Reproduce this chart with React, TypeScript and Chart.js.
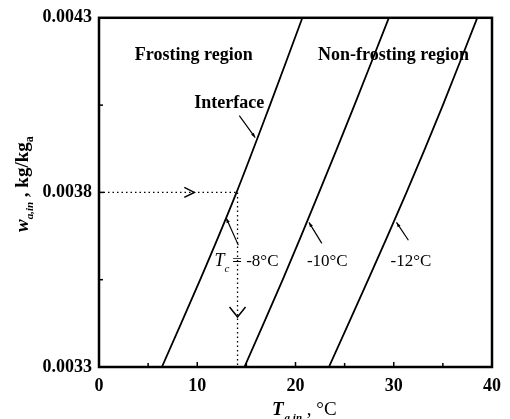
import React, { useEffect, useRef } from 'react';
import { Chart, registerables } from 'chart.js';
Chart.register(...registerables);

// Air humidity ratio (kg/kg_a) sampled along each interface line
const humidity = [0.0033, 0.00355, 0.0038, 0.00405, 0.0043];
// Inlet air temperature (°C) on the frosting interface for each coil temperature
const tempCoilMinus8 = [6.4, 10.3, 14.0, 17.4, 20.7];
const tempCoilMinus10 = [14.8, 18.7, 22.4, 26.0, 29.5];
const tempCoilMinus12 = [23.4, 27.4, 31.3, 35.0, 38.5];

const xTicks = [0, 10, 20, 30, 40];
const xMinorTicks = [5, 15, 25, 35];
const yTicks = [0.0033, 0.0038, 0.0043];
const yMinorTicks = [0.00355, 0.00405];

// Example reading (dotted guide)
const guideHumidity = 0.0038;
const guideTemp = 14.1;

const SERIF = '"Liberation Serif", "Times New Roman", serif';

function toPoints(ts: number[]) {
  return ts.map((t, i) => ({ x: t, y: humidity[i] }));
}

const overlay = {
  id: 'overlay',
  afterDraw(chart: any) {
    const { ctx, chartArea: a } = chart;
    const xs = chart.scales.x;
    const ys = chart.scales.y;
    const X = (v: number) => xs.getPixelForValue(v);
    const Y = (v: number) => ys.getPixelForValue(v);
    ctx.save();
    ctx.strokeStyle = '#000';
    ctx.fillStyle = '#000';
    ctx.lineCap = 'butt';

    // frame
    ctx.lineWidth = 2.5;
    ctx.strokeRect(a.left, a.top, a.right - a.left, a.bottom - a.top);

    // ticks (inward)
    ctx.lineWidth = 1.5;
    const tick = (px: number, py: number, dx: number, dy: number) => {
      ctx.beginPath();
      ctx.moveTo(px, py);
      ctx.lineTo(px + dx, py + dy);
      ctx.stroke();
    };
    xTicks.forEach((v) => tick(X(v), a.bottom, 0, -5));
    xMinorTicks.forEach((v) => tick(X(v), a.bottom, 0, -4));
    yTicks.forEach((v) => tick(a.left, Y(v), 5, 0));
    yMinorTicks.forEach((v) => tick(a.left, Y(v), 4, 0));

    // guide arrowheads (open chevrons)
    ctx.lineWidth = 1.5;
    const hx = X(9.7), hy = Y(guideHumidity);
    ctx.beginPath();
    ctx.moveTo(hx - 10, hy - 5);
    ctx.lineTo(hx, hy);
    ctx.lineTo(hx - 10, hy + 5);
    ctx.stroke();
    const vx = X(guideTemp), vy = Y(0.003443);
    ctx.beginPath();
    ctx.moveTo(vx - 8, vy - 10);
    ctx.lineTo(vx, vy);
    ctx.lineTo(vx + 8, vy - 10);
    ctx.stroke();

    // pointers from labels to curves
    const pointer = (t1: number, w1: number, t2: number, w2: number) => {
      const x1 = X(t1), y1 = Y(w1), x2 = X(t2), y2 = Y(w2);
      ctx.lineWidth = 1.2;
      ctx.beginPath();
      ctx.moveTo(x1, y1);
      ctx.lineTo(x2, y2);
      ctx.stroke();
      const ang = Math.atan2(y1 - y2, x1 - x2);
      const s = 5;
      ctx.beginPath();
      ctx.moveTo(x1, y1);
      ctx.lineTo(x1 - s * Math.cos(ang - 0.35), y1 - s * Math.sin(ang - 0.35));
      ctx.lineTo(x1 - s * Math.cos(ang + 0.35), y1 - s * Math.sin(ang + 0.35));
      ctx.closePath();
      ctx.fill();
    };
    pointer(15.9, 0.003957, 14.28, 0.00402);
    pointer(12.96, 0.003726, 14.18, 0.003649);
    pointer(21.37, 0.003714, 22.68, 0.003654);
    pointer(30.28, 0.003714, 31.49, 0.003663);

    // region texts
    ctx.textBaseline = 'alphabetic';
    ctx.textAlign = 'left';
    ctx.font = `bold 18px ${SERIF}`;
    ctx.fillText('Frosting region', X(3.65), Y(0.00418));
    ctx.fillText('Non-frosting region', X(22.3), Y(0.00418));
    ctx.fillText('Interface', X(9.7), Y(0.004043));

    // coil temperature labels
    const lblY = Y(0.003589);
    let px = X(11.75);
    ctx.font = `italic 18px ${SERIF}`;
    ctx.fillText('T', px, lblY);
    px += ctx.measureText('T').width;
    ctx.font = `italic 11px ${SERIF}`;
    ctx.fillText('c', px, lblY + 6);
    px += ctx.measureText('c').width + 3;
    ctx.font = `17px ${SERIF}`;
    ctx.fillText('= -8°C', px, lblY);
    ctx.fillText('-10°C', X(21.16), lblY);
    ctx.fillText('-12°C', X(29.67), lblY);

    // x-axis title
    const tb = 415;
    let tx = 272;
    ctx.font = `bold italic 19px ${SERIF}`;
    ctx.fillText('T', tx, tb);
    tx += ctx.measureText('T').width + 1;
    ctx.font = `bold italic 11px ${SERIF}`;
    ctx.fillText('a,in', tx, tb + 6);
    tx += ctx.measureText('a,in').width;
    ctx.font = `19px ${SERIF}`;
    ctx.fillText(' , °C', tx, tb);

    // y-axis title (rotated)
    ctx.translate(28, 232);
    ctx.rotate(-Math.PI / 2);
    let ry = 0;
    ctx.font = `bold italic 19px ${SERIF}`;
    ctx.fillText('w', ry, 0);
    ry += ctx.measureText('w').width;
    ctx.font = `bold italic 11px ${SERIF}`;
    ctx.fillText('a,in', ry, 5);
    ry += ctx.measureText('a,in').width;
    ctx.font = `bold 19px ${SERIF}`;
    ctx.fillText(' , kg/kg', ry, 0);
    ry += ctx.measureText(' , kg/kg').width;
    ctx.font = `bold 12px ${SERIF}`;
    ctx.fillText('a', ry, 5);

    ctx.restore();
  },
};

export default function App() {
  const ref = useRef<HTMLCanvasElement | null>(null);
  useEffect(() => {
    if (!ref.current) return;
    const curve = (ts: number[]) => ({
      data: toPoints(ts),
      borderColor: '#000',
      borderWidth: 1.8,
      pointRadius: 0,
      tension: 0.3,
      fill: false,
    });
    const chart = new Chart(ref.current, {
      type: 'line',
      data: {
        datasets: [
          curve(tempCoilMinus8),
          curve(tempCoilMinus10),
          curve(tempCoilMinus12),
          {
            data: [
              { x: 0, y: guideHumidity },
              { x: guideTemp, y: guideHumidity },
            ],
            borderColor: '#000',
            borderWidth: 1.3,
            borderDash: [1.5, 3],
            pointRadius: 0,
          },
          {
            data: [
              { x: guideTemp, y: guideHumidity },
              { x: guideTemp, y: 0.0033 },
            ],
            borderColor: '#000',
            borderWidth: 1.3,
            borderDash: [1.5, 3],
            pointRadius: 0,
          },
        ],
      },
      options: {
        animation: false,
        responsive: true,
        maintainAspectRatio: false,
        layout: { padding: { top: 17, right: 16, left: 0, bottom: 0 } },
        plugins: { legend: { display: false }, tooltip: { enabled: false } },
        scales: {
          x: {
            type: 'linear',
            min: 0,
            max: 40,
            grid: { display: false, drawTicks: false },
            border: { display: false },
            afterBuildTicks: (s: any) => {
              s.ticks = xTicks.map((v) => ({ value: v }));
            },
            afterFit: (s: any) => {
              s.height = 52;
            },
            ticks: {
              padding: 9,
              color: '#000',
              maxRotation: 0,
              font: { family: SERIF, size: 18, weight: 'bold' },
              callback: (v: any) => String(v),
            },
          },
          y: {
            type: 'linear',
            min: 0.0033,
            max: 0.0043,
            grid: { display: false, drawTicks: false },
            border: { display: false },
            afterBuildTicks: (s: any) => {
              s.ticks = yTicks.map((v) => ({ value: v }));
            },
            afterFit: (s: any) => {
              s.width = 99;
            },
            ticks: {
              padding: 7,
              color: '#000',
              font: { family: SERIF, size: 18, weight: 'bold' },
              callback: (v: any) => Number(v).toFixed(4),
            },
          },
        },
      },
      plugins: [overlay],
    } as any);
    return () => chart.destroy();
  }, []);
  return (
    <div style={{ position: 'fixed', left: 0, top: 0, width: 510, height: 419, background: '#fff' }}>
      <canvas ref={ref} />
    </div>
  );
}
